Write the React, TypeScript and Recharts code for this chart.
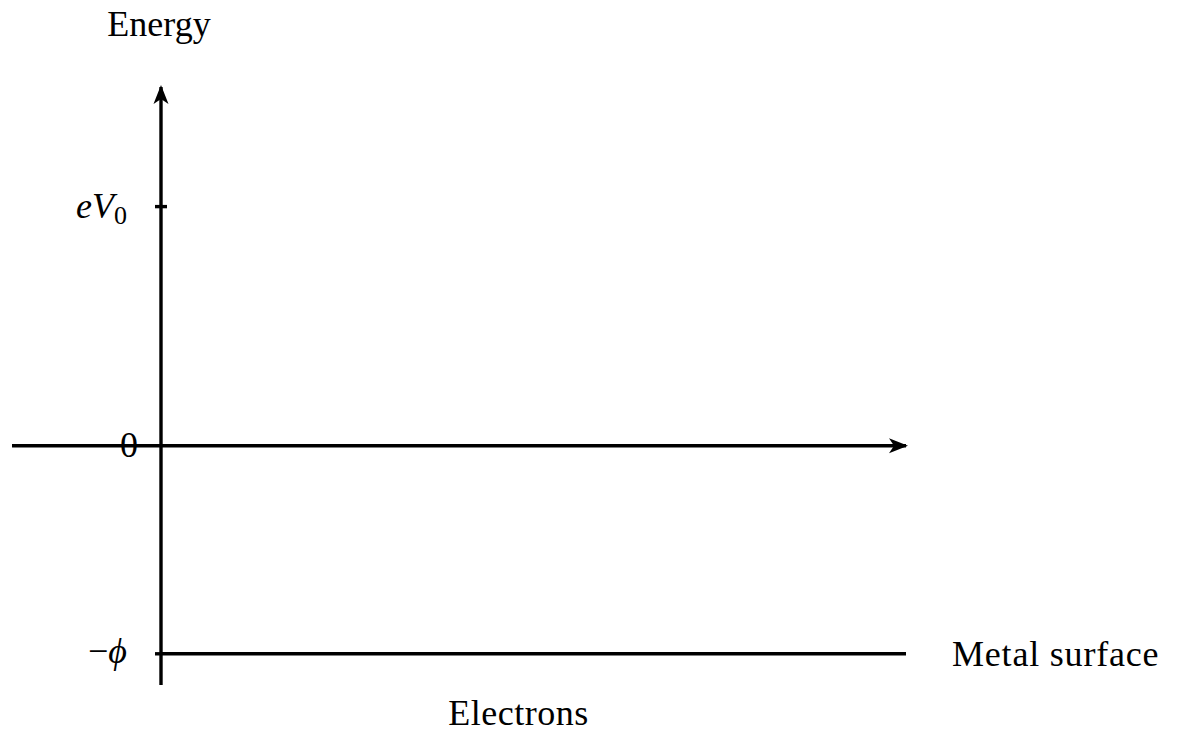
import React from 'react';
import { ComposedChart, XAxis, YAxis, ReferenceLine, ReferenceDot } from 'recharts';

// Data (energy levels, arbitrary units)
const X_DOMAIN = [-1, 5];
const Y_DOMAIN = [-4.6, 6.9];
const AXIS_ORIGIN = 0;
const LEVEL_VALUES = [4.6, 0, -4.0]; // eV0, 0, -phi
const LEVEL_KEYS = ['eV0', 'zero', 'phi'];
const METAL_RANGE = [0, 5];
const TITLES = ['Energy', 'Electrons', 'Metal surface'];

const FONT = '"Liberation Serif", "Times New Roman", serif';
const FS = 36;
const SW = 3.4;

const eV0 = LEVEL_VALUES[0];
const zero = LEVEL_VALUES[1];
const phi = LEVEL_VALUES[2];

const UpArrow = (p: any) => (
  <g>
    <polygon
      points={`${p.cx},${p.cy - 2} ${p.cx - 7.5},${p.cy + 17} ${p.cx},${p.cy + 12} ${p.cx + 7.5},${p.cy + 17}`}
      fill="#000"
    />
    <text x={p.cx - 2} y={p.cy - 51} textAnchor="middle" fontFamily={FONT} fontSize={FS} fill="#000">
      {TITLES[0]}
    </text>
  </g>
);

const RightArrow = (p: any) => (
  <polygon
    points={`${p.cx + 2},${p.cy} ${p.cx - 17},${p.cy - 7.5} ${p.cx - 12},${p.cy} ${p.cx - 17},${p.cy + 7.5}`}
    fill="#000"
  />
);

const TickEV0 = (p: any) => (
  <g>
    <line x1={p.cx - 6} x2={p.cx + 6} y1={p.cy} y2={p.cy} stroke="#000" strokeWidth={SW} />
    <text x={p.cx - 34} y={p.cy + 11} textAnchor="end" fontFamily={FONT} fontSize={FS} fill="#000">
      <tspan fontStyle="italic">e</tspan>
      <tspan fontStyle="italic">V</tspan>
      <tspan fontSize={26} dy={6}>0</tspan>
    </text>
  </g>
);

const TickZero = (p: any) => (
  <text x={p.cx - 23} y={p.cy + 11} textAnchor="end" fontFamily={FONT} fontSize={FS} fill="#000">
    0
  </text>
);

const TickPhi = (p: any) => (
  <g>
    <line x1={p.cx - 6} x2={p.cx} y1={p.cy} y2={p.cy} stroke="#000" strokeWidth={SW} />
    <text x={p.cx - 34} y={p.cy + 9} textAnchor="end" fontFamily={FONT} fontSize={FS} fill="#000">
      <tspan>−</tspan>
      <tspan fontStyle="italic">ϕ</tspan>
    </text>
  </g>
);

const MetalLabel = (p: any) => (
  <text x={p.cx + 46} y={p.cy + 12} textAnchor="start" fontFamily={FONT} fontSize={FS} fill="#000" letterSpacing={0.8}>
    {TITLES[2]}
  </text>
);

const ElectronsLabel = (p: any) => (
  <text x={p.cx - 15} y={p.cy + 71} textAnchor="middle" fontFamily={FONT} fontSize={FS} fill="#000" letterSpacing={0.5}>
    {TITLES[1]}
  </text>
);

export default function App() {
  return (
    <div style={{ margin: -8, width: 1178, height: 736, overflow: 'hidden' }}>
      <ComposedChart
        width={1178}
        height={736}
        data={[]}
        margin={{ top: 87, right: 272, bottom: 51, left: 12 }}
      >
        <XAxis type="number" dataKey="x" domain={X_DOMAIN} allowDataOverflow hide />
        <YAxis type="number" dataKey="y" domain={Y_DOMAIN} allowDataOverflow hide />
        {/* horizontal axis */}
        <ReferenceLine
          segment={[{ x: X_DOMAIN[0], y: zero }, { x: X_DOMAIN[1], y: zero }]}
          stroke="#000"
          strokeWidth={SW}
          ifOverflow="visible"
        />
        {/* vertical axis */}
        <ReferenceLine
          segment={[{ x: AXIS_ORIGIN, y: Y_DOMAIN[0] }, { x: AXIS_ORIGIN, y: Y_DOMAIN[1] }]}
          stroke="#000"
          strokeWidth={SW}
          ifOverflow="visible"
        />
        {/* metal surface level */}
        <ReferenceLine
          segment={[{ x: METAL_RANGE[0], y: phi }, { x: METAL_RANGE[1], y: phi }]}
          stroke="#000"
          strokeWidth={SW}
          ifOverflow="visible"
        />
        <ReferenceDot x={AXIS_ORIGIN} y={Y_DOMAIN[1]} ifOverflow="visible" shape={UpArrow} />
        <ReferenceDot x={X_DOMAIN[1]} y={zero} ifOverflow="visible" shape={RightArrow} />
        <ReferenceDot x={AXIS_ORIGIN} y={eV0} ifOverflow="visible" shape={TickEV0} />
        <ReferenceDot x={AXIS_ORIGIN} y={zero} ifOverflow="visible" shape={TickZero} />
        <ReferenceDot x={AXIS_ORIGIN} y={phi} ifOverflow="visible" shape={TickPhi} />
        <ReferenceDot x={METAL_RANGE[1]} y={phi} ifOverflow="visible" shape={MetalLabel} />
        <ReferenceDot x={(METAL_RANGE[0] + METAL_RANGE[1]) / 2} y={phi} ifOverflow="visible" shape={ElectronsLabel} />
      </ComposedChart>
    </div>
  );
}
